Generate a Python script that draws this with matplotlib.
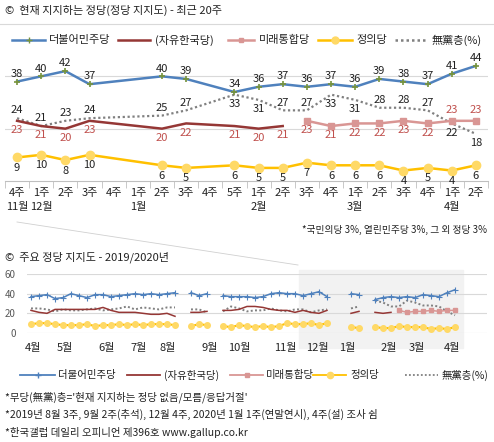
import matplotlib
matplotlib.use("Agg")
import matplotlib.pyplot as plt
import numpy as np
from matplotlib.lines import Line2D

plt.rcParams["font.family"] = ["Noto Sans CJK KR", "DejaVu Sans"]

nan = np.nan

# ---- top chart: last 20 weeks ----
week_labels = ["4주", "1주", "2주", "3주", "4주", "1주", "2주", "3주", "4주", "5주",
               "1주", "2주", "3주", "4주", "1주", "2주", "3주", "4주", "1주", "2주"]
month_labels = {0: "11월", 1: "12월", 5: "1월", 10: "2월", 14: "3월", 18: "4월"}
minjoo = [38, 40, 42, 37, nan, nan, 40, 39, nan, 34, 36, 37, 36, 37, 36, 39, 38, 37, 41, 44]
jayu = [23, 21, 20, 23, nan, nan, 20, 22, nan, 21, 20, 21, nan, nan, nan, nan, nan, nan, nan, nan]
mirae = [nan] * 12 + [23, 21, 22, 22, 23, 22, 23, 23]
jeongui = [9, 10, 8, 10, nan, nan, 6, 5, nan, 6, 5, 5, 7, 6, 6, 6, 4, 5, 4, 6]
muudang = [24, 21, 23, 24, nan, nan, 25, 27, nan, 33, 31, 27, 27, 33, 31, 28, 28, 27, 22, 18]
muudang_below = {9, 10, 13, 14, 18, 19}
mirae_above = {18, 19}

# ---- bottom chart: weekly 2019/2020 ----
b_minjoo = ([37, 38, 39, 35, 36, 40, 38, 36, 39, 39, 37, 38, 39, 40, 39, 40, 39, 40, 41] + [nan]
            + [41, 38, 40] + [nan]
            + [38, 37, 37, 37, 36, 37, 40, 41, 40, 40, 38, 40, 42, 37] + [nan, nan]
            + [40, 39] + [nan]
            + [34, 36, 37, 36, 37, 36, 39, 38, 37, 41, 44])
b_jayu = ([23, 21, 20, 24, 24, 24, 24, 24, 24, 26, 23, 21, 21, 21, 20, 19, 19, 20, 17] + [nan]
          + [21, 21, 22] + [nan]
          + [23, 23, 24, 27, 27, 26, 24, 23, 23, 21, 23, 21, 20, 23] + [nan, nan]
          + [20, 22] + [nan]
          + [21, 20, 21] + [nan] * 8)
b_mirae = [nan] * 46 + [23, 21, 22, 22, 23, 22, 23, 23]
b_jeongui = ([9, 10, 10, 9, 8, 8, 8, 9, 7, 8, 8, 9, 8, 9, 8, 9, 9, 9, 8] + [nan]
             + [7, 9, 8] + [nan]
             + [7, 6, 8, 7, 6, 7, 6, 7, 10, 9, 9, 10, 8, 10] + [nan, nan]
             + [6, 5] + [nan]
             + [6, 5, 5, 7, 6, 6, 6, 4, 5, 4, 6])
b_muudang = ([25, 25, 24, 22, 24, 23, 23, 24, 25, 23, 24, 25, 27, 24, 26, 25, 24, 26, 26] + [nan]
             + [24, 24, 21] + [nan]
             + [22, 27, 25, 22, 23, 23, 25, 23, 22, 24, 24, 21, 23, 24] + [nan, nan]
             + [25, 27] + [nan]
             + [33, 31, 27, 27, 33, 31, 28, 28, 27, 22, 18])
b_months = ["4월", "5월", "6월", "7월", "8월", "9월", "10월", "11월", "12월", "1월", "2월", "3월", "4월"]
b_month_pos = [0.25, 4.25, 9.5, 13.4, 17.1, 22.4, 26.1, 31.75, 35.75, 39.5, 44.75, 48.25, 52.6]

C_MJ = "#4f81bd"
C_MJ_M = "#77933c"
C_JY = "#953735"
C_MR = "#d99694"
C_MR_T = "#c0504d"
C_JU = "#ffc000"
C_JU_M = "#ffd966"
C_MU = "#808080"
C_TXT = "#222222"
FS = 8

W, H = 494, 442
fig = plt.figure(figsize=(W / 100, H / 100), dpi=100)


def rect(l, t, r, b):
    return [l / W, 1 - b / H, (r - l) / W, (b - t) / H]


def connected(vals):
    v = np.array(vals, dtype=float)
    x = np.arange(len(v))
    m = ~np.isnan(v)
    return x[m], v[m]


# overlay in pixel coordinates
ov = fig.add_axes([0, 0, 1, 1], zorder=5)
ov.set_xlim(0, W)
ov.set_ylim(H, 0)
ov.axis("off")
ov.patch.set_alpha(0)

# ---- top axes ----
ax = fig.add_axes(rect(5, 24, 488, 181))
ax.set_xlim(-0.5, 19.5)
ax.set_ylim(0, 60)
for s in ["top", "right", "left"]:
    ax.spines[s].set_visible(False)
ax.spines["bottom"].set_color("#bfbfbf")
ax.set_yticks([20, 40])
ax.yaxis.grid(True, color="#d9d9d9", lw=0.8)
ax.tick_params(axis="y", length=0, labelleft=False)
ax.set_axisbelow(True)
ax.set_xticks(range(20))
ax.set_xticklabels(week_labels, fontsize=FS, color=C_TXT)
ax.tick_params(axis="x", which="major", length=0, pad=5)
ax.set_xticks(np.arange(-0.5, 20, 1), minor=True)
ax.tick_params(axis="x", which="minor", length=5, color="#bfbfbf", direction="out")
for p, lab in month_labels.items():
    ax.text(p, -0.135, lab, transform=ax.get_xaxis_transform(), ha="center", va="top",
            fontsize=FS, color=C_TXT)

x, y = connected(muudang)
ax.plot(x, y, color=C_MU, lw=1.6, ls=(0, (1, 1.2)))
x, y = connected(jayu)
ax.plot(x, y, color=C_JY, lw=1.8)
x, y = connected(mirae)
ax.plot(x, y, color=C_MR, lw=1.8, marker="s", ms=4)
x, y = connected(jeongui)
ax.plot(x, y, color=C_JU, lw=1.8, marker="o", ms=6, mfc=C_JU_M, mec=C_JU_M)
x, y = connected(minjoo)
ax.plot(x, y, color=C_MJ, lw=1.8, marker="+", ms=5, mec=C_MJ_M, mew=1.2)

for i in range(20):
    if not np.isnan(minjoo[i]):
        ax.annotate(f"{minjoo[i]:.0f}", (i, minjoo[i]), xytext=(0, 2), textcoords="offset points",
                    ha="center", va="bottom", fontsize=FS, color=C_TXT)
    if not np.isnan(jayu[i]):
        ax.annotate(f"{jayu[i]:.0f}", (i, jayu[i]), xytext=(0, -3), textcoords="offset points",
                    ha="center", va="top", fontsize=FS, color=C_MR_T)
    if not np.isnan(mirae[i]):
        up = i in mirae_above
        ax.annotate(f"{mirae[i]:.0f}", (i, mirae[i]), xytext=(0, 4 if up else -3), textcoords="offset points",
                    ha="center", va="bottom" if up else "top", fontsize=FS, color=C_MR_T)
    if not np.isnan(jeongui[i]):
        ax.annotate(f"{jeongui[i]:.0f}", (i, jeongui[i]), xytext=(0, -4), textcoords="offset points",
                    ha="center", va="top", fontsize=FS, color=C_TXT)
    if not np.isnan(muudang[i]):
        dn = i in muudang_below
        ax.annotate(f"{muudang[i]:.0f}", (i, muudang[i]), xytext=(0, -3 if dn else 2), textcoords="offset points",
                    ha="center", va="top" if dn else "bottom", fontsize=FS, color=C_TXT)

# ---- bottom axes ----
bx = fig.add_axes(rect(27, 274, 487, 333))
bx.set_xlim(-0.5, 57)
bx.set_ylim(0, 60)
for s in ["top", "right", "left", "bottom"]:
    bx.spines[s].set_visible(False)
bx.set_yticks([0, 20, 40, 60])
bx.set_yticklabels(["0", "20", "40", "60"], fontsize=7, color="#595959")
bx.tick_params(axis="y", length=0, pad=8)
bx.yaxis.grid(True, color="#d9d9d9", lw=0.8)
bx.set_axisbelow(True)
bx.set_xticks(b_month_pos)
bx.set_xticklabels(b_months, fontsize=FS, color=C_TXT)
bx.tick_params(axis="x", length=0, pad=7)
bx.axvspan(33.5, 54, ymin=-0.25, ymax=1.07, color="#f2f2f2", zorder=0, clip_on=False)

bidx = np.arange(len(b_minjoo))
bx.plot(bidx, b_muudang, color=C_MU, lw=1.4, ls=(0, (1, 1.2)), clip_on=False)
bx.plot(bidx, b_jayu, color=C_JY, lw=1.1, clip_on=False)
bx.plot(bidx, b_mirae, color=C_MR, lw=1.1, marker="s", ms=2.5, clip_on=False)
bx.plot(bidx, b_jeongui, color=C_JU, lw=1.5, marker="o", ms=4, mfc=C_JU_M, mec=C_JU_M, clip_on=False)
bx.plot(bidx, b_minjoo, color=C_MJ, lw=1.1, marker="+", ms=4, mew=0.8, clip_on=False)

# ---- titles, legends, notes ----
ov.plot([0, W], [24, 24], color="#d9d9d9", lw=0.8)
ov.plot([17, 298], [222, 265], color="#d0d0d0", lw=0.6)
ov.text(5, 10, "©  현재 지지하는 정당(정당 지지도) - 최근 20주", fontsize=FS, va="center", color=C_TXT)
ov.text(5, 257, "©  주요 정당 지지도 - 2019/2020년", fontsize=FS, va="center", color=C_TXT)
ov.text(487, 230, "*국민의당 3%, 열린민주당 3%, 그 외 정당 3%", fontsize=7, va="center", ha="right", color=C_TXT)

legend_top = [(12, 45, 49, "더불어민주당", dict(color=C_MJ, marker="+", mec=C_MJ_M, ms=5)),
              (118, 150, 155, "(자유한국당)", dict(color=C_JY)),
              (228, 254, 259, "미래통합당", dict(color=C_MR, marker="s", ms=3.5)),
              (318, 352, 356, "정의당", dict(color=C_JU, marker="o", ms=5, mfc=C_JU_M, mec=C_JU_M)),
              (395, 428, 432, "無黨층(%)", dict(color=C_MU, ls=(0, (1, 1.2))))]
for x0, x1, xt, lab, st in legend_top:
    ov.add_line(Line2D([x0, (x0 + x1) / 2, x1], [40, 40, 40], lw=1.8, markevery=[1], **st))
    ov.text(xt, 40, lab, fontsize=FS, va="center", color=C_TXT)

legend_bot = [(20, 55, 58, "더불어민주당", dict(color=C_MJ, marker="+", ms=4)),
              (127, 160, 164, "(자유한국당)", dict(color=C_JY)),
              (230, 263, 266, "미래통합당", dict(color=C_MR, marker="s", ms=2.5)),
              (313, 346, 350, "정의당", dict(color=C_JU, marker="o", ms=4.5, mfc=C_JU_M, mec=C_JU_M)),
              (405, 438, 442, "無黨층(%)", dict(color=C_MU, ls=(0, (1, 1.2))))]
for x0, x1, xt, lab, st in legend_bot:
    ov.add_line(Line2D([x0, (x0 + x1) / 2, x1], [375, 375, 375], lw=1.3, markevery=[1], **st))
    ov.text(xt, 375, lab, fontsize=7.5, va="center", color=C_TXT)

notes = ["*무당(無黨)층='현재 지지하는 정당 없음/모름/응답거절'",
         "*2019년 8월 3주, 9월 2주(추석), 12월 4주, 2020년 1월 1주(연말연시), 4주(설) 조사 쉼",
         "*한국갤럽 데일리 오피니언 제396호 www.gallup.co.kr"]
for k, n in enumerate(notes):
    ov.text(5, 397 + 17.5 * k, n, fontsize=7.5, va="center", color=C_TXT)

fig.savefig("out.png", dpi=100)
